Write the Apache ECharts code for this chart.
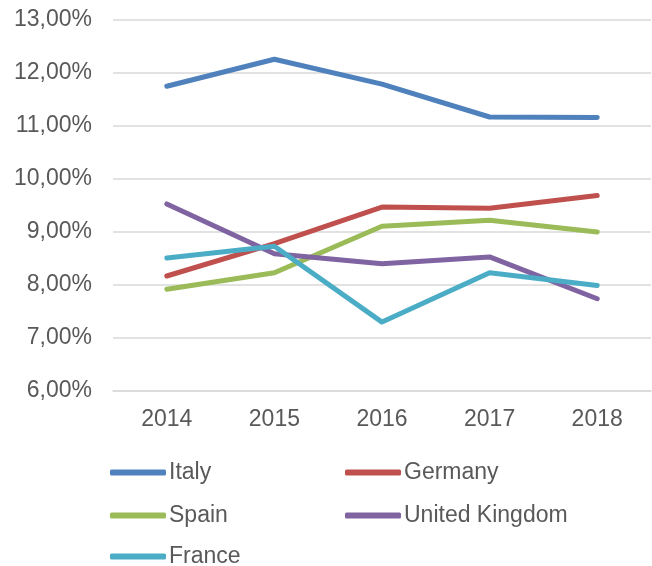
<!DOCTYPE html>
<html>
<head>
<meta charset="utf-8">
<script src="https://cdn.jsdelivr.net/npm/echarts@6/dist/echarts.min.js"></script>
<style>
  html, body { margin: 0; padding: 0; background: #fff; }
  #chart { width: 652px; height: 566px; }
</style>
</head>
<body>
<div id="chart"></div>
<script>
// data (percent)
const years = ['2014', '2015', '2016', '2017', '2018'];
const italy = [11.75, 12.26, 11.79, 11.17, 11.16];
const germany = [8.17, 8.78, 9.47, 9.45, 9.69];
const spain = [7.92, 8.23, 9.11, 9.22, 9.00];
const unitedKingdom = [9.53, 8.59, 8.40, 8.53, 7.74];
const france = [8.51, 8.73, 7.30, 8.23, 7.99];

const names = ['Italy', 'Germany', 'Spain', 'United Kingdom', 'France'];
const colors = ['#4F81BD', '#C0504D', '#9BBB59', '#8064A2', '#4BACC6'];
const values = [italy, germany, spain, unitedKingdom, france];

const textColor = '#595959';
const font = 'Liberation Sans, Arial, sans-serif';

// one legend per entry, laid out in two columns like the original
const legendSpots = [[110, 461], [345, 461], [110, 504], [345, 504], [110, 545]];

let myChart = echarts.init(document.getElementById('chart'), null, {renderer: 'canvas'});

let option = {
    animation: false,
    color: colors,
    legend: names.map((n, i) => ({
        left: legendSpots[i][0],
        top: legendSpots[i][1],
        padding: 0,
        data: [n],
        itemWidth: 56,
        itemHeight: 6,
        icon: 'roundRect',
        textStyle: {color: textColor, fontSize: 23, fontFamily: font, lineHeight: 22, padding: [0, 0, 0, -2]}
    })),
    grid: {left: 113, right: 1, top: 20, bottom: 175},
    xAxis: {
        type: 'category',
        data: years,
        boundaryGap: true,
        axisTick: {show: false},
        axisLine: {lineStyle: {color: '#D9D9D9', width: 1.5}},
        axisLabel: {color: textColor, fontSize: 23, fontFamily: font, margin: 17}
    },
    yAxis: {
        type: 'value',
        min: 6,
        max: 13,
        interval: 1,
        axisLabel: {
            color: textColor, fontSize: 23, fontFamily: font, margin: 21,
            formatter: v => v.toFixed(2).replace('.', ',') + '%'
        },
        splitLine: {lineStyle: {color: '#D9D9D9', width: 1.5}}
    },
    series: names.map((n, i) => ({
        name: n,
        type: 'line',
        data: values[i],
        showSymbol: false,
        symbol: 'none',
        lineStyle: {width: 5, color: colors[i], cap: 'round', join: 'round'},
        itemStyle: {color: colors[i]}
    }))
};
myChart.setOption(option);
</script>
</body>
</html>
